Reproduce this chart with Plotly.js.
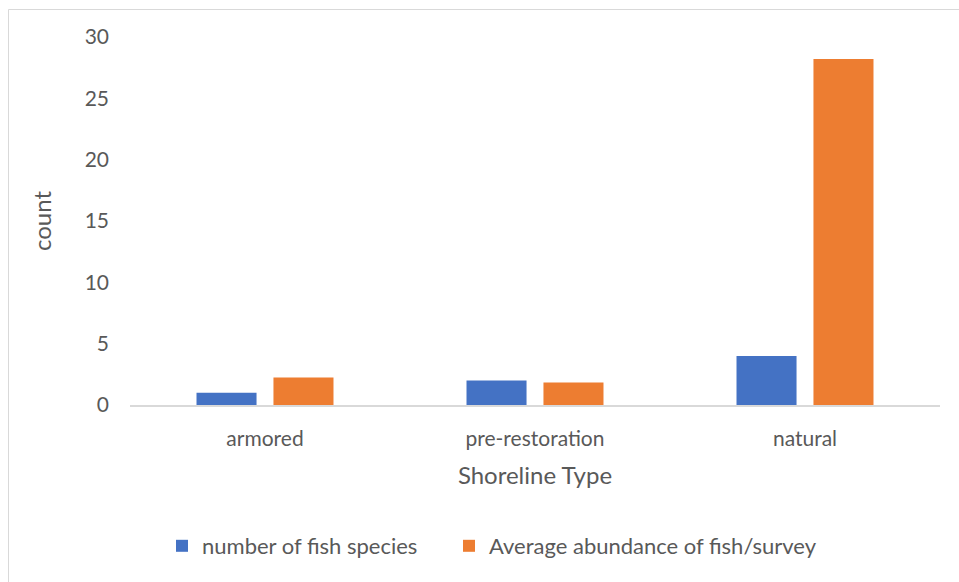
<!DOCTYPE html>
<html>
<head>
<meta charset="utf-8">
<script src="https://cdn.plot.ly/plotly-3.0.1.min.js"></script>
<style>
  html, body { margin: 0; padding: 0; background: #fff; }
  #chart { width: 959px; height: 582px; }
</style>
</head>
<body>
<div id="chart"></div>
<script>
// Shoreline categories and the two measured series
const shorelineTypes = ['armored', 'pre-restoration', 'natural'];
const fishSpecies = [1, 2, 4];
const avgAbundance = [2.25, 1.83, 28.2];
const seriesNames = ['number of fish species', 'Average abundance of fish/survey'];
const yTicks = [0, 5, 10, 15, 20, 25, 30];

const W = 959, H = 582;
const margin = { l: 130, r: 19, t: 37, b: 177 };
const plotW = W - margin.l - margin.r;
const plotH = H - margin.t - margin.b;

// convert pixel positions to paper coordinates
const px2x = px => (px - margin.l) / plotW;
const px2y = py => (H - margin.b - py) / plotH;

const textColor = '#595959';
const fontFamily = 'Lato, "Open Sans", sans-serif';

const traces = [
  {
    type: 'bar',
    name: seriesNames[0],
    x: shorelineTypes,
    y: fishSpecies,
    marker: { color: '#4472C4' },
    legend: 'legend',
    hoverinfo: 'x+y'
  },
  {
    type: 'bar',
    name: seriesNames[1],
    x: shorelineTypes,
    y: avgAbundance,
    marker: { color: '#ED7D31' },
    legend: 'legend2',
    hoverinfo: 'x+y'
  }
];

// one legend box per series so each entry sits at its own spot along the bottom
const legendBase = {
  orientation: 'h',
  xanchor: 'left',
  y: px2y(546),
  yanchor: 'middle',
  font: { size: 22, color: textColor },
  itemwidth: 30,
  bgcolor: 'rgba(0,0,0,0)'
};

const layout = {
  width: W,
  height: H,
  margin: margin,
  paper_bgcolor: '#ffffff',
  plot_bgcolor: '#ffffff',
  font: { family: fontFamily, color: textColor, size: 21 },
  barmode: 'group',
  bargap: 0.43,
  bargroupgap: 0.22,
  showlegend: true,
  legend: Object.assign({}, legendBase, { x: px2x(162) }),
  legend2: Object.assign({}, legendBase, { x: px2x(449) }),
  xaxis: {
    type: 'category',
    showline: true,
    linecolor: '#D9D9D9',
    linewidth: 1.5,
    showgrid: false,
    zeroline: false,
    ticks: '',
    ticklabelstandoff: 14,
    tickfont: { size: 21, color: textColor },
    title: { text: 'Shoreline Type', font: { size: 24, color: textColor }, standoff: 18 }
  },
  yaxis: {
    range: [0, 30],
    tickvals: yTicks,
    ticktext: yTicks.map(String),
    showgrid: false,
    showline: false,
    zeroline: false,
    ticks: '',
    ticklabelstandoff: 20,
    tickfont: { size: 21, color: textColor },
    title: { text: 'count', font: { size: 24, color: textColor }, standoff: 26 }
  },
  shapes: [
    {
      // light frame around the whole chart
      type: 'rect',
      xref: 'paper', yref: 'paper',
      x0: px2x(8.5), x1: px2x(975),
      y0: px2y(600), y1: px2y(9.5),
      line: { color: '#D9D9D9', width: 1 },
      fillcolor: 'rgba(0,0,0,0)',
      layer: 'below'
    }
  ]
};

Plotly.newPlot('chart', traces, layout, { displayModeBar: false, staticPlot: true });
</script>
</body>
</html>
